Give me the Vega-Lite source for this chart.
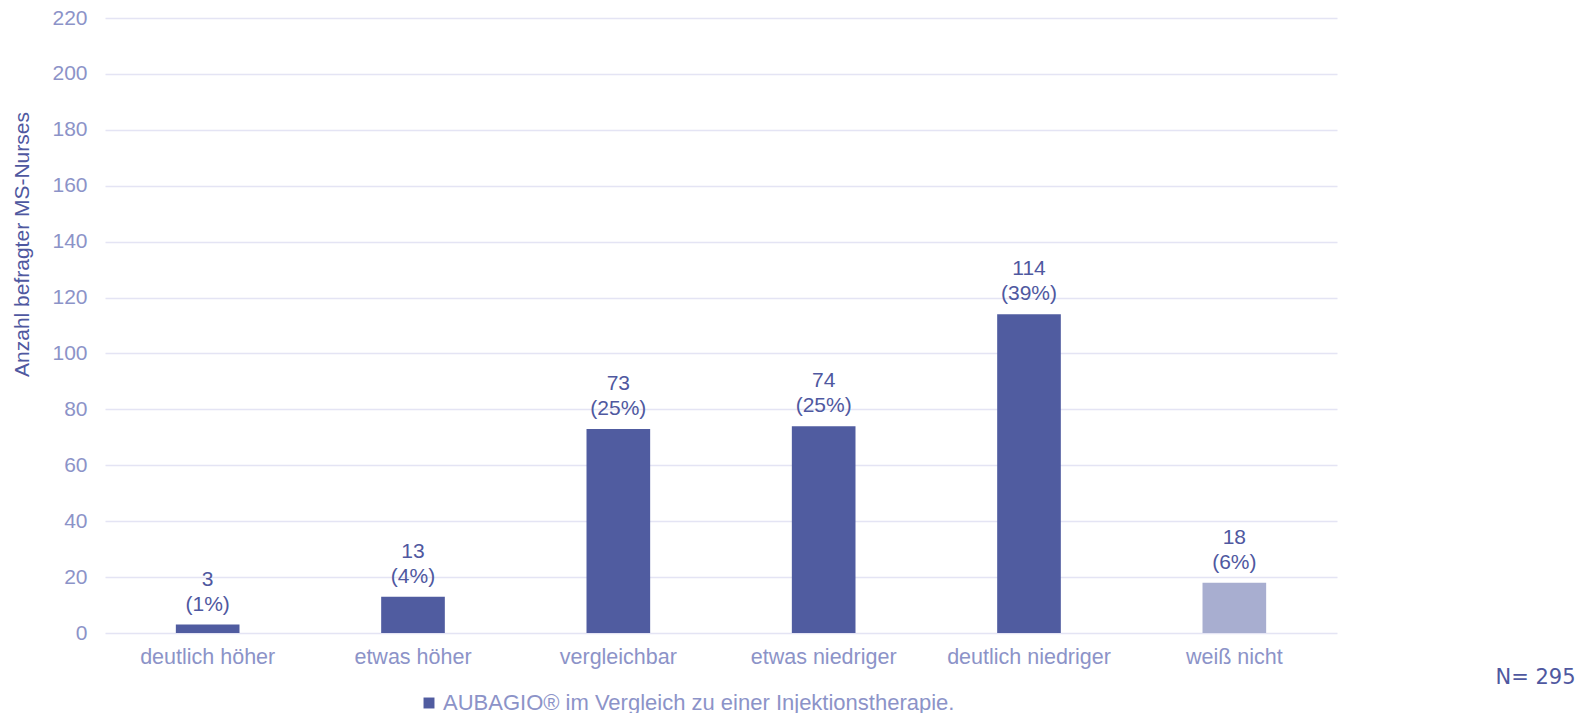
{
  "$schema": "https://vega.github.io/schema/vega-lite/v6.json",
  "width": 1232,
  "height": 615,
  "autosize": "none",
  "padding": {"left": 105, "top": 18, "right": 244, "bottom": 80},
  "background": "white",
  "config": {
    "view": {"stroke": null},
    "font": "Liberation Sans"
  },
  "data": {
    "values": [
      {"kategorie": "deutlich höher", "anzahl": 3, "anteil": "(1%)", "serie": "AUBAGIO® im Vergleich zu einer Injektionstherapie."},
      {"kategorie": "etwas höher", "anzahl": 13, "anteil": "(4%)", "serie": "AUBAGIO® im Vergleich zu einer Injektionstherapie."},
      {"kategorie": "vergleichbar", "anzahl": 73, "anteil": "(25%)", "serie": "AUBAGIO® im Vergleich zu einer Injektionstherapie."},
      {"kategorie": "etwas niedriger", "anzahl": 74, "anteil": "(25%)", "serie": "AUBAGIO® im Vergleich zu einer Injektionstherapie."},
      {"kategorie": "deutlich niedriger", "anzahl": 114, "anteil": "(39%)", "serie": "AUBAGIO® im Vergleich zu einer Injektionstherapie."},
      {"kategorie": "weiß nicht", "anzahl": 18, "anteil": "(6%)", "serie": "AUBAGIO® im Vergleich zu einer Injektionstherapie."}
    ]
  },
  "encoding": {
    "x": {
      "field": "kategorie",
      "type": "nominal",
      "sort": null,
      "scale": {"paddingInner": 0.69, "paddingOuter": 0.345},
      "axis": {
        "title": "N= 295",
        "titleFont": "DejaVu Sans",
        "titleFontSize": 21,
        "titleFontWeight": "normal",
        "titleColor": "#4F58A0",
        "titleAnchor": null,
        "titleX": 1470,
        "titleY": 50,
        "titleAlign": "right",
        "titleBaseline": "alphabetic",
        "labelAngle": 0,
        "labelFontSize": 21.5,
        "labelColor": "#8C93C8",
        "labelPadding": 13,
        "ticks": false,
        "domain": false
      }
    },
    "y": {
      "field": "anzahl",
      "type": "quantitative",
      "scale": {"domain": [0, 220]},
      "axis": {
        "title": "Anzahl befragter MS-Nurses",
        "titleFontSize": 21,
        "titleFontWeight": "normal",
        "titleColor": "#4F58A0",
        "titleY": 226,
        "titleX": -73,
        "values": [0, 20, 40, 60, 80, 100, 120, 140, 160, 180, 200, 220],
        "labelFontSize": 21,
        "labelColor": "#8C93C8",
        "labelPadding": 18,
        "ticks": false,
        "domain": false,
        "gridColor": "#E4E4F4",
        "gridWidth": 1.5
      }
    }
  },
  "layer": [
    {
      "mark": {"type": "bar"},
      "encoding": {
        "color": {
          "condition": {"test": "datum.kategorie === 'weiß nicht'", "value": "#A8AED0"},
          "field": "serie",
          "type": "nominal",
          "scale": {"range": ["#505CA0"]},
          "legend": {
            "title": null,
            "orient": "none",
            "legendX": 313,
            "legendY": 674,
            "symbolType": "square",
            "symbolSize": 120,
            "symbolStrokeWidth": 0,
            "labelFontSize": 22,
            "labelColor": "#8C93C8",
            "labelOffset": 3,
            "labelLimit": 800
          }
        }
      }
    },
    {
      "mark": {
        "type": "text",
        "baseline": "bottom",
        "lineBreak": "\n",
        "fontSize": 21,
        "color": "#4F58A0",
        "dy": -35,
        "lineHeight": 25
      },
      "encoding": {
        "text": {"field": "label"}
      },
      "transform": [{"calculate": "datum.anzahl + '\\n' + datum.anteil", "as": "label"}]
    }
  ]
}
